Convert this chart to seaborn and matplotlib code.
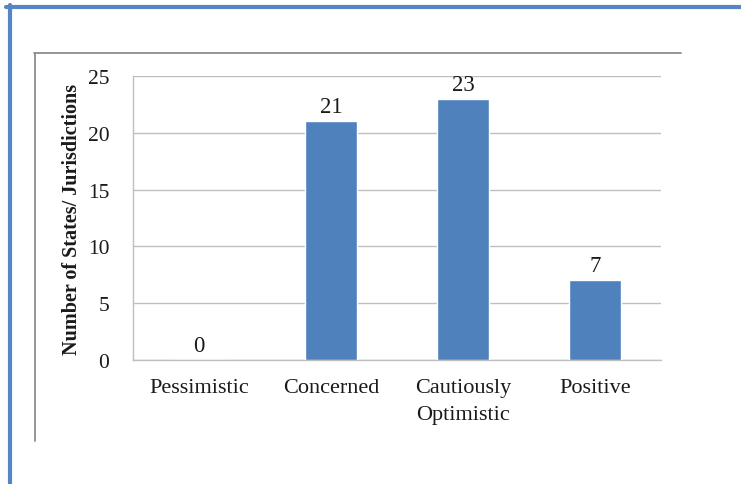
import matplotlib
matplotlib.use("Agg")
import matplotlib.pyplot as plt
from matplotlib.lines import Line2D
import seaborn as sns
import pandas as pd

categories = ["Pessimistic", "Concerned", "Cautiously\nOptimistic", "Positive"]
counts = [0, 21, 23, 7]
y_ticks = [0, 5, 10, 15, 20, 25]

sns.set_style("white")
plt.rcParams["font.family"] = ["Liberation Serif", "DejaVu Serif"]

df = pd.DataFrame({"category": categories, "count": counts})

fig = plt.figure(figsize=(7.41, 4.85), dpi=100)
ax = fig.add_axes([133 / 741, 1 - 361 / 485, (661 - 133) / 741, (361 - 77) / 485])

bar_blue = "#4F81BD"
sns.barplot(data=df, x="category", y="count", color=bar_blue, width=0.4,
            saturation=1, ax=ax, zorder=3)

grid_grey = "#BFBFBF"
ax.set_ylim(0, 25)
ax.set_xlim(-0.5, len(categories) - 0.5)
ax.set_yticks(y_ticks)
ax.yaxis.grid(True, color=grid_grey, linewidth=1.0, zorder=0)
ax.xaxis.grid(False)
for side in ["top", "right"]:
    ax.spines[side].set_visible(False)
for side in ["left", "bottom"]:
    ax.spines[side].set_color(grid_grey)
    ax.spines[side].set_linewidth(1.0)

# category separators on the x axis
ax.set_xticks([i - 0.5 for i in range(len(categories) + 1)], minor=True)
ax.tick_params(axis="x", which="minor", length=5, width=1, color=grid_grey, direction="out")
ax.tick_params(axis="x", which="major", length=0, pad=13, labelsize=16)
ax.tick_params(axis="y", which="major", length=5, width=1, color=grid_grey,
               direction="out", pad=12, labelsize=15.5)
for lbl in ax.get_xticklabels():
    lbl.set_linespacing(1.55)
    lbl.set_color("#1a1a1a")
for lbl in ax.get_yticklabels():
    lbl.set_color("#1a1a1a")

ax.set_xlabel("")
ax.set_ylabel("Number of States/ Jurisdictions", fontsize=14.5, fontweight="bold",
              color="#1a1a1a", labelpad=4)

# value labels above each bar
for i, v in enumerate(counts):
    ax.annotate(str(v), (i, v), xytext=(0, 3), textcoords="offset points",
                ha="center", va="bottom", fontsize=16.5, color="#1a1a1a")

# outer blue frame (top and left edges)
frame_blue = "#5585C2"
fig.add_artist(Line2D([6 / 741, 1.0], [1 - 8 / 485, 1 - 8 / 485],
                      transform=fig.transFigure, color=frame_blue, linewidth=3.0))
fig.add_artist(Line2D([10 / 741, 10 / 741], [0.0, 1 - 6 / 485],
                      transform=fig.transFigure, color=frame_blue, linewidth=3.0))

# inner grey frame (top and left edges)
frame_grey = "#8C8C8C"
fig.add_artist(Line2D([34 / 741, 681 / 741], [1 - 54 / 485, 1 - 54 / 485],
                      transform=fig.transFigure, color=frame_grey, linewidth=1.3))
fig.add_artist(Line2D([35 / 741, 35 / 741], [1 - 442 / 485, 1 - 54 / 485],
                      transform=fig.transFigure, color=frame_grey, linewidth=1.3))

fig.savefig("out.png", dpi=100, facecolor="white")
